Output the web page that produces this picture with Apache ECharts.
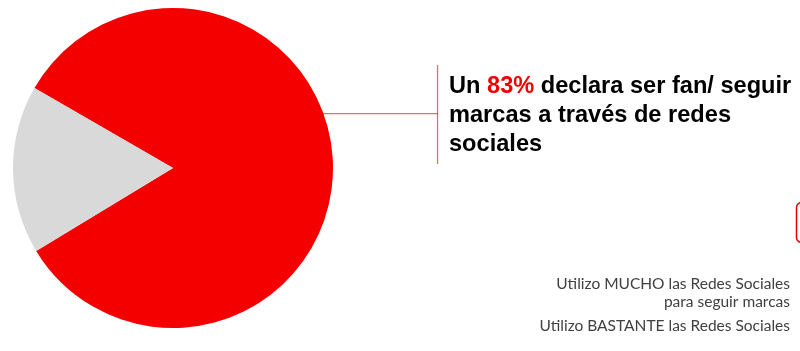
<!DOCTYPE html>
<html>
<head>
<meta charset="utf-8">
<script src="https://cdn.jsdelivr.net/npm/echarts@6/dist/echarts.min.js"></script>
<style>
  html, body { margin: 0; padding: 0; background: #fff; }
  #main { width: 800px; height: 351px; }
</style>
</head>
<body>
<div id="main"></div>
<script>
// data
const categories = ["Fan / sigue marcas", "Resto"];
const values = [83, 17];
const colors = ["#f50000", "#d9d9d9"];
const calloutPct = "83%";
const legendLines = [
  "Utilizo MUCHO las Redes Sociales",
  "para seguir marcas",
  "Utilizo BASTANTE las Redes Sociales"
];
const legendTops = [275, 293, 317];

const boldFont = "Liberation Sans";
const lightFont = "Lato";
const leaderColor = "rgba(245, 0, 0, 0.6)";

const options = {
  animation: false,
  series: [
    {
      type: "pie",
      center: [173, 168],
      radius: 160,
      startAngle: 150,
      clockwise: true,
      label: { show: false },
      labelLine: { show: false },
      itemStyle: { borderWidth: 0 },
      data: categories.map((c, i) => ({
        name: c,
        value: values[i],
        itemStyle: { color: colors[i] }
      }))
    }
  ],
  graphic: [
    {
      type: "rect",
      shape: { x: 323, y: 112.9, width: 115, height: 1.3 },
      style: { fill: leaderColor }
    },
    {
      type: "rect",
      shape: { x: 436.9, y: 65, width: 1.3, height: 99 },
      style: { fill: leaderColor }
    },
    {
      type: "text",
      left: 449,
      top: 74,
      style: {
        text: "{b|Un }{r|" + calloutPct + "}{b| declara ser fan/ seguir}\n{b|marcas a través de redes}\n{b|sociales}",
        rich: {
          b: { fontFamily: boldFont, fontWeight: "bold", fontSize: 23.6, lineHeight: 29, fill: "#000" },
          r: { fontFamily: boldFont, fontWeight: "bold", fontSize: 23.6, lineHeight: 29, fill: "#f50000" }
        }
      }
    },
    {
      type: "rect",
      shape: { x: 796.5, y: 202.5, width: 30, height: 40, r: 5 },
      style: { stroke: "#e00000", lineWidth: 1.5, fill: null }
    }
  ].concat(legendLines.map((t, i) => ({
    type: "text",
    right: 10,
    top: legendTops[i],
    style: {
      text: t,
      fontFamily: lightFont,
      fontSize: 15.5,
      lineHeight: 18,
      fill: "#404040"
    }
  })))
};

var myChart = echarts.init(document.querySelector("#main"));
myChart.setOption(options);
window.onresize = function() {
  myChart.resize();
};
</script>
</body>
</html>
